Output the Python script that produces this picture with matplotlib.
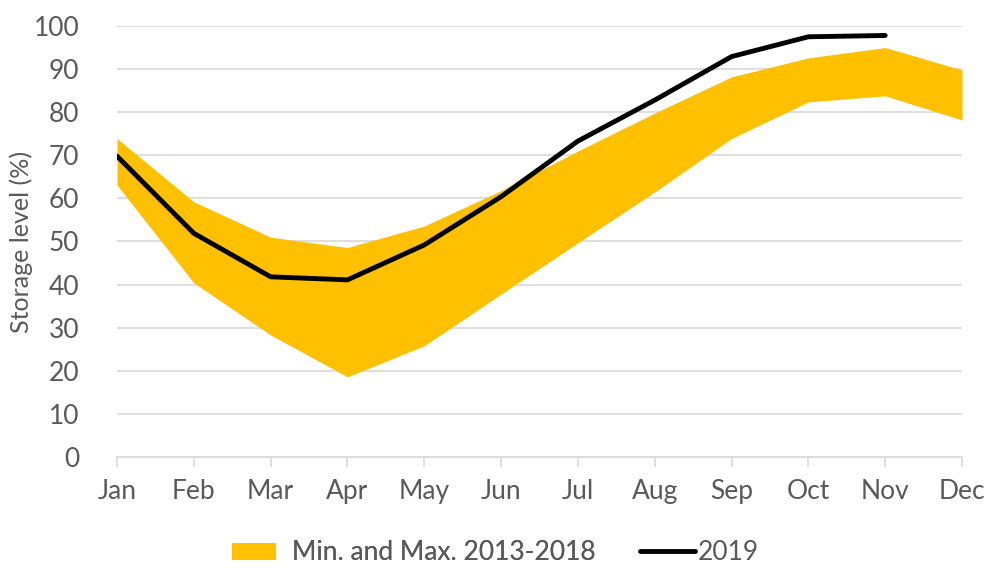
import matplotlib
matplotlib.use("Agg")
import matplotlib.pyplot as plt
from matplotlib.patches import Patch
from matplotlib.lines import Line2D

months = ["Jan", "Feb", "Mar", "Apr", "May", "Jun", "Jul", "Aug", "Sep", "Oct", "Nov", "Dec"]
band_max = [73.9, 59.2, 51.0, 48.6, 53.6, 61.8, 71.0, 79.8, 88.2, 92.6, 95.0, 89.8]
band_min = [63.1, 40.4, 28.3, 18.6, 25.8, 37.8, 49.7, 61.5, 73.9, 82.4, 83.8, 78.2]
y2019 = [69.8, 51.9, 41.8, 41.1, 49.2, 60.4, 73.3, 82.8, 92.9, 97.5, 97.8]
yticks = list(range(0, 101, 10))

plt.rcParams['font.family'] = ['Lato', 'DejaVu Sans']
gray = "#595959"
fs = 19
W, H = 988, 568

fig = plt.figure(figsize=(W/100, H/100), dpi=100)
ax = fig.add_axes([117/W, 1 - 457/H, (962-117)/W, (457-26)/H])

x = list(range(len(months)))
ax.fill_between(x, band_min, band_max, color="#FFC000", linewidth=0, zorder=2)
ax.plot(range(len(y2019)), y2019, color="black", linewidth=3.5, solid_capstyle="round",
        solid_joinstyle="miter", zorder=3)

ax.set_xlim(0, 11)
ax.set_ylim(0, 100)
ax.set_yticks(yticks)
ax.set_xticks(x)
ax.set_xticklabels(months)
ax.yaxis.grid(True, color="#D9D9D9", linewidth=1.2, zorder=0)
ax.set_axisbelow(True)
for s in ["left", "right", "top"]:
    ax.spines[s].set_visible(False)
ax.spines["bottom"].set_color("#D9D9D9")
ax.spines["bottom"].set_linewidth(1.2)
ax.tick_params(axis="y", length=0, labelsize=fs, labelcolor=gray, pad=27)
ax.tick_params(axis="x", length=7, width=1.2, color="#D9D9D9", direction="out",
               labelsize=fs, labelcolor=gray, pad=9)
fig.text(21/W, 1 - 242/H, "Storage level (%)", rotation=90, ha="center", va="center",
         fontsize=18, color=gray)

ly = 1 - 553/H
leg1 = fig.legend(handles=[Patch(facecolor="#FFC000", edgecolor="none",
                                 label="Min. and Max. 2013-2018")],
                  loc="center left", bbox_to_anchor=(232/W, ly), frameon=False,
                  fontsize=fs, labelcolor=gray, handlelength=1.67, handleheight=0.6,
                  handletextpad=0.6, borderpad=0, borderaxespad=0)
fig.add_artist(leg1)
fig.legend(handles=[Line2D([0], [0], color="black", linewidth=3.5,
                           solid_capstyle="round", label="2019")],
           loc="center left", bbox_to_anchor=(640/W, ly), frameon=False,
           fontsize=fs, labelcolor=gray, handlelength=2.08,
           handletextpad=0.1, borderpad=0, borderaxespad=0)

fig.savefig("out.png", dpi=100)
